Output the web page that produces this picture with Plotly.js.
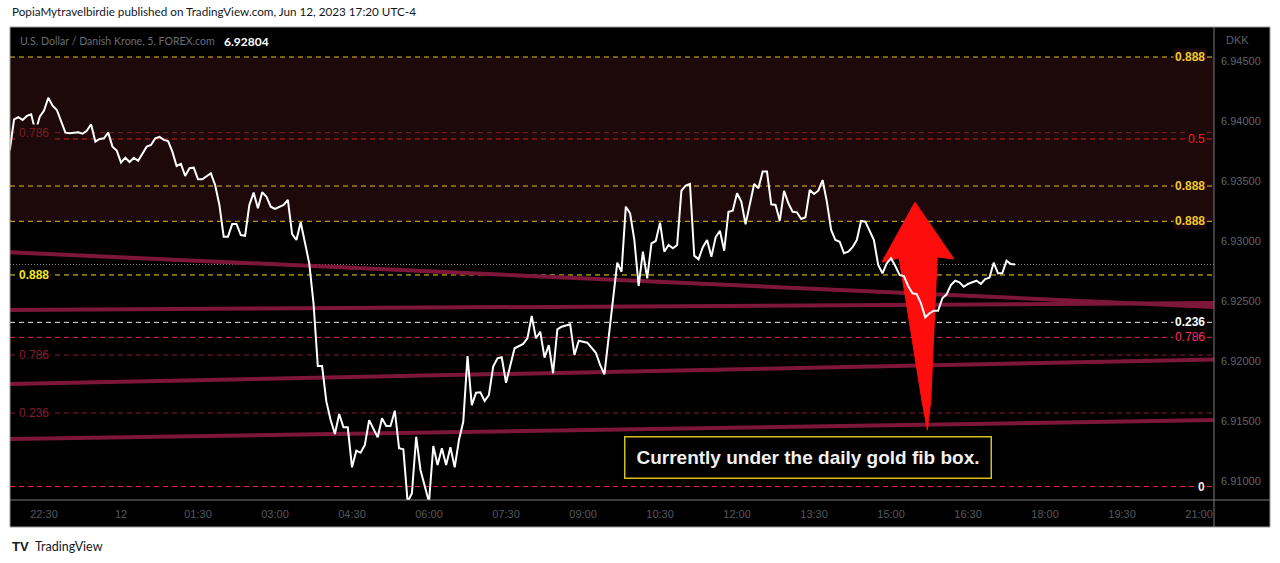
<!DOCTYPE html>
<html>
<head>
<meta charset="utf-8">
<script src="https://cdn.plot.ly/plotly-3.0.1.min.js"></script>
<style>
  html, body { margin: 0; padding: 0; background: #ffffff; }
  #chart { width: 1280px; height: 563px; }
</style>
</head>
<body>
<div id="chart"></div>
<script>
// ---------- DATA ----------
const sessionStart = '2023-06-11 21:50';   // first 5-minute bar
const barIndex = [0,1,2,3,4,5,6,7,8,9,10,11,13,14,16,17,18,19,20,21,22,23,24,25,26,27,28,29,30,32,33,34,35,36,37,38,39,40,41,42,43,44,45,47,48,49,50,51,52,53,54,55,56,57,58,59,60,61,62,64,65,66,67,68,69,70,71,72,73,74,75,76,77,78,79,80,81,82,83,84,86,87,88,89,90,91,92,93,94,95,96,97,98,99,100,101,102,103,104,105,106,107,108,109,110,111,112,113,114,115,116,118,120,121,122,123,124,125,126,127,128,129,131,132,133,134,135,137,138,139,140,141,142,143,144,145,146,147,148,149,150,151,152,153,154,155,156,157,158,159,160,161,162,163,164,165,166,167,168,169,170,171,172,174,175,176,177,178,179,180,181,182,183,184,185,186,187,188,189,190,191,192,193,194,195,196,197,198,199,200,201,202,203,204,205,206,207,208,209,210,211,212,213,214,215,216,217,218,219,220,221,222,223,224,225,226,227,228,229,230,231,232,233,234,235];
const closePrice = [6.93758,6.94014,6.94031,6.94008,6.94042,6.94056,6.93911,6.94036,6.94086,6.94194,6.94128,6.94092,6.93903,6.93898,6.93906,6.93894,6.93919,6.93973,6.93828,6.93850,6.93856,6.93903,6.93786,6.93753,6.93653,6.93694,6.93658,6.93694,6.93669,6.93786,6.93800,6.93856,6.93867,6.93842,6.93833,6.93744,6.93625,6.93642,6.93542,6.93606,6.93611,6.93514,6.93514,6.93564,6.93467,6.93300,6.93036,6.93036,6.93142,6.93142,6.93050,6.93044,6.93300,6.93403,6.93273,6.93406,6.93369,6.93286,6.93267,6.93300,6.93342,6.93058,6.93008,6.93156,6.92986,6.92814,6.92481,6.91958,6.91958,6.91661,6.91508,6.91392,6.91558,6.91448,6.91448,6.91114,6.91253,6.91236,6.91300,6.91508,6.91364,6.91523,6.91458,6.91458,6.91586,6.91273,6.91264,6.90825,6.90898,6.91369,6.91092,6.90967,6.90825,6.91292,6.91133,6.91273,6.91133,6.91281,6.91114,6.91342,6.91494,6.92042,6.91633,6.91736,6.91739,6.91667,6.91717,6.91953,6.92023,6.92031,6.91819,6.92106,6.92142,6.92189,6.92375,6.92189,6.92244,6.92028,6.92133,6.91898,6.92264,6.92286,6.92306,6.92050,6.92169,6.92161,6.92153,6.92069,6.91967,6.91889,6.92203,6.92481,6.92819,6.92744,6.93286,6.93231,6.93008,6.92625,6.92911,6.92689,6.92981,6.93000,6.93153,6.92911,6.92967,6.92939,6.92967,6.93419,6.93461,6.93475,6.92878,6.92848,6.92948,6.93008,6.92869,6.93031,6.93086,6.92919,6.93244,6.93253,6.93398,6.93328,6.93139,6.93475,6.93439,6.93578,6.93578,6.93306,6.93300,6.93169,6.93417,6.93314,6.93244,6.93239,6.93183,6.93198,6.93425,6.93392,6.93419,6.93508,6.93328,6.93092,6.93008,6.92994,6.92898,6.92911,6.92948,6.93008,6.93167,6.93161,6.93078,6.93008,6.92800,6.92731,6.92814,6.92856,6.92792,6.92717,6.92708,6.92625,6.92564,6.92558,6.92481,6.92364,6.92398,6.92419,6.92419,6.92523,6.92556,6.92633,6.92669,6.92656,6.92619,6.92642,6.92656,6.92669,6.92642,6.92683,6.92694,6.92819,6.92731,6.92731,6.92836,6.92808,6.92804];
const lastPrice = 6.92804;

const viewStart = '2023-06-11 21:50:14';
const viewEnd = '2023-06-12 21:17:30';
const priceMin = 6.90842, priceMax = 6.94783;

const timeTickVals = ['2023-06-11 22:30','2023-06-12 00:00','2023-06-12 01:30','2023-06-12 03:00','2023-06-12 04:30','2023-06-12 06:00','2023-06-12 07:30','2023-06-12 09:00','2023-06-12 10:30','2023-06-12 12:00','2023-06-12 13:30','2023-06-12 15:00','2023-06-12 16:30','2023-06-12 18:00','2023-06-12 19:30','2023-06-12 21:00'];
const timeTickText = ['22:30','12','01:30','03:00','04:30','06:00','07:30','09:00','10:30','12:00','13:30','15:00','16:30','18:00','19:30','21:00'];
const priceTicks = [6.910,6.915,6.920,6.925,6.930,6.935,6.940,6.945];

// fib levels
const fibPrice = [6.94533,6.93903,6.93850,6.93458,6.93164,6.92717,6.92322,6.92197,6.92050,6.91567,6.90954];
const fibColor = ['#e2bd22','#7e1d24','#d61b1b','#e2bd22','#e2bd22','#f0dc1c','#e6e6e6','#e0245e','#8a1c32','#8a1c32','#ff1f50'];
const fibRightLabel = ['0.888','','0.5','0.888','0.888','','0.236','0.786','','','0'];
const fibRightColor = ['#f0c829','','#ff1a1a','#f0c829','#f0c829','','#ffffff','#ff2a66','','','#ffe6ee'];
const fibRightBold = [true,false,false,true,true,false,true,false,false,false,true];
const fibLeftLabel = ['','0.786','','','','0.888','','','0.786','0.236',''];
const fibLeftColor = ['','#7e1d24','','','','#f5e51c','','','#8a1c32','#8a1c32',''];
const fibLeftBold = [false,false,false,false,false,true,false,false,false,false,false];
const goldBoxTop = 6.94533, goldBoxBottom = 6.93164;

// trend lines (start price, end price across the view)
const trendFrom = [6.92906,6.92425,6.91808,6.91350];
const trendTo   = [6.92450,6.92483,6.92013,6.91508];

// arrow drawing
const arrowTimes = ['2023-06-12 15:28:00','2023-06-12 16:13:30','2023-06-12 15:54:00','2023-06-12 15:46:30','2023-06-12 15:42:30','2023-06-12 15:36:00','2023-06-12 15:09:30','2023-06-12 14:49:30','2023-06-12 15:28:00'];
const arrowPrices = [6.93323,6.92850,6.92867,6.91675,6.91425,6.91675,6.92858,6.92825,6.93323];

const noteText = 'Currently under the daily gold fib box.';
const noteTime = '2023-06-12 13:23';
const notePrice = 6.91196;

// ---------- BUILD ----------
function barTime(i) {
  const base = Date.UTC(2023,5,11,21,50);
  return new Date(base + i*5*60000).toISOString().slice(0,19).replace('T',' ');
}
const times = barIndex.map(barTime);

const traces = [];
for (let i = 0; i < trendFrom.length; i++) {
  traces.push({x:[viewStart, viewEnd], y:[trendFrom[i], trendTo[i]], mode:'lines',
    line:{color:'#7d1638', width:4}, hoverinfo:'skip', showlegend:false});
}
traces.push({x: arrowTimes, y: arrowPrices, mode:'lines', fill:'toself', fillcolor:'#ff0d0d',
  line:{color:'#ff0d0d', width:1}, hoverinfo:'skip', showlegend:false});
traces.push({x: times, y: closePrice, mode:'lines', line:{color:'#ffffff', width:2}, showlegend:false});

const BLACK_BOX_R = (1270-10)/1204;
const BLACK_BOX_B = -27/473;

const shapes = [
  {type:'rect', xref:'paper', yref:'paper', x0:0, x1:BLACK_BOX_R, y0:BLACK_BOX_B, y1:1, fillcolor:'#000000', line:{width:0}, layer:'below'},
  {type:'rect', xref:'paper', yref:'y', x0:0, x1:1, y0:goldBoxBottom, y1:goldBoxTop, fillcolor:'#1d080a', line:{width:0}, layer:'below'},
];
fibPrice.forEach((p,i)=>{
  shapes.push({type:'line', xref:'paper', yref:'y', x0:0, x1:1, y0:p, y1:p, line:{color:fibColor[i], width:1, dash:'5px,4px'}, layer:'below'});
});
shapes.push({type:'line', xref:'paper', yref:'y', x0:0, x1:1, y0:lastPrice, y1:lastPrice, line:{color:'#8a8a8a', width:1, dash:'1px,2px'}, layer:'below'});
// panel frame and separators
shapes.push({type:'rect', xref:'paper', yref:'paper', x0:0, x1:BLACK_BOX_R, y0:BLACK_BOX_B, y1:1, line:{color:'#9a9a9a', width:1}, fillcolor:'rgba(0,0,0,0)'});
shapes.push({type:'line', xref:'paper', yref:'paper', x0:1, x1:1, y0:BLACK_BOX_B, y1:1, line:{color:'#7a7a7a', width:1}});
shapes.push({type:'line', xref:'paper', yref:'paper', x0:0, x1:BLACK_BOX_R, y0:0, y1:0, line:{color:'#7a7a7a', width:1}});

const annotations = [];
fibPrice.forEach((p,i)=>{
  const inBox = p <= goldBoxTop && p >= goldBoxBottom;
  const bg = inBox ? '#1d080a' : '#000000';
  if (fibRightLabel[i]) {
    annotations.push({xref:'paper', yref:'y', x:(1207-10)/1204, y:p, xanchor:'right', yanchor:'middle',
      text: fibRightBold[i] ? '<b>'+fibRightLabel[i]+'</b>' : fibRightLabel[i], showarrow:false,
      font:{family:'Liberation Sans, Arial, sans-serif', size:12, color:fibRightColor[i]}, bgcolor:bg, borderpad:1});
  }
  if (fibLeftLabel[i]) {
    annotations.push({xref:'paper', yref:'y', x:(17-10)/1204, y:p, xanchor:'left', yanchor:'middle',
      text: fibLeftBold[i] ? '<b>'+fibLeftLabel[i]+'</b>' : fibLeftLabel[i], showarrow:false,
      font:{family:'Liberation Sans, Arial, sans-serif', size:12, color:fibLeftColor[i]}, bgcolor:bg, borderpad:1});
  }
});
annotations.push({xref:'x', yref:'y', x:noteTime, y:notePrice, text:'<b>'+noteText+'</b>', showarrow:false,
  font:{family:'Liberation Sans, Arial, sans-serif', size:19, color:'#f0f0f0'}, bgcolor:'#000000', bordercolor:'#cfc01c', borderwidth:1.5,
  borderpad:8, width:349, height:24, xanchor:'center', yanchor:'middle'});
// title / header / footer
annotations.push({xref:'paper', yref:'paper', x:(18-10)/1204, y:(500-41)/473, xanchor:'left', yanchor:'middle', showarrow:false,
  text:'U.S. Dollar / Danish Krone, 5, FOREX.com',
  font:{family:'Lato, sans-serif', size:10.6, color:'#6a6d78'}});
annotations.push({xref:'paper', yref:'paper', x:(222-10)/1204, y:(500-41)/473, xanchor:'left', yanchor:'middle', showarrow:false,
  text:'<b>6.92804</b>',
  font:{family:'Lato, sans-serif', size:12, color:'#ffffff'}});
annotations.push({xref:'paper', yref:'paper', x:(1224-10)/1204, y:(500-40)/473, xanchor:'left', yanchor:'middle', showarrow:false,
  text:'DKK', font:{family:'Liberation Sans, Arial, sans-serif', size:11, color:'#5d606b'}});
annotations.push({xref:'paper', yref:'paper', x:0, y:(500-11)/473, xanchor:'left', yanchor:'middle', showarrow:false,
  text:'PopiaMytravelbirdie published on TradingView.com, Jun 12, 2023 17:20 UTC-4',
  font:{family:'Lato, sans-serif', size:11.7, color:'#131722'}});
annotations.push({xref:'paper', yref:'paper', x:0, y:(500-546)/473, xanchor:'left', yanchor:'middle', showarrow:false,
  text:'<b>TV</b>', font:{family:'Liberation Sans, Arial, sans-serif', size:13, color:'#131722'}});
annotations.push({xref:'paper', yref:'paper', x:(33-10)/1204, y:(500-546)/473, xanchor:'left', yanchor:'middle', showarrow:false,
  text:'TradingView', font:{family:'Lato, sans-serif', size:12.5, color:'#131722'}});

const layout = {
  width:1280, height:563,
  margin:{l:10, r:66, t:27, b:63, pad:0},
  paper_bgcolor:'#ffffff', plot_bgcolor:'#000000',
  showlegend:false,
  xaxis:{type:'date', range:[viewStart, viewEnd], showgrid:false, zeroline:false, showline:false,
    tickmode:'array', tickvals:timeTickVals, ticktext:timeTickText, ticks:'', ticklabelstandoff:6,
    tickfont:{family:'Liberation Sans, Arial, sans-serif', size:11, color:'#55585f'}, fixedrange:true},
  yaxis:{side:'right', range:[priceMin, priceMax], showgrid:false, zeroline:false, showline:false,
    tickmode:'array', tickvals:priceTicks, ticktext:priceTicks.map(v=>v.toFixed(5)), ticks:'', ticklabelstandoff:6,
    tickfont:{family:'Liberation Sans, Arial, sans-serif', size:11, color:'#60636a'}, fixedrange:true},
  shapes: shapes,
  annotations: annotations
};
Plotly.newPlot('chart', traces, layout, {displayModeBar:false, staticPlot:true});
</script>
</body>
</html>
